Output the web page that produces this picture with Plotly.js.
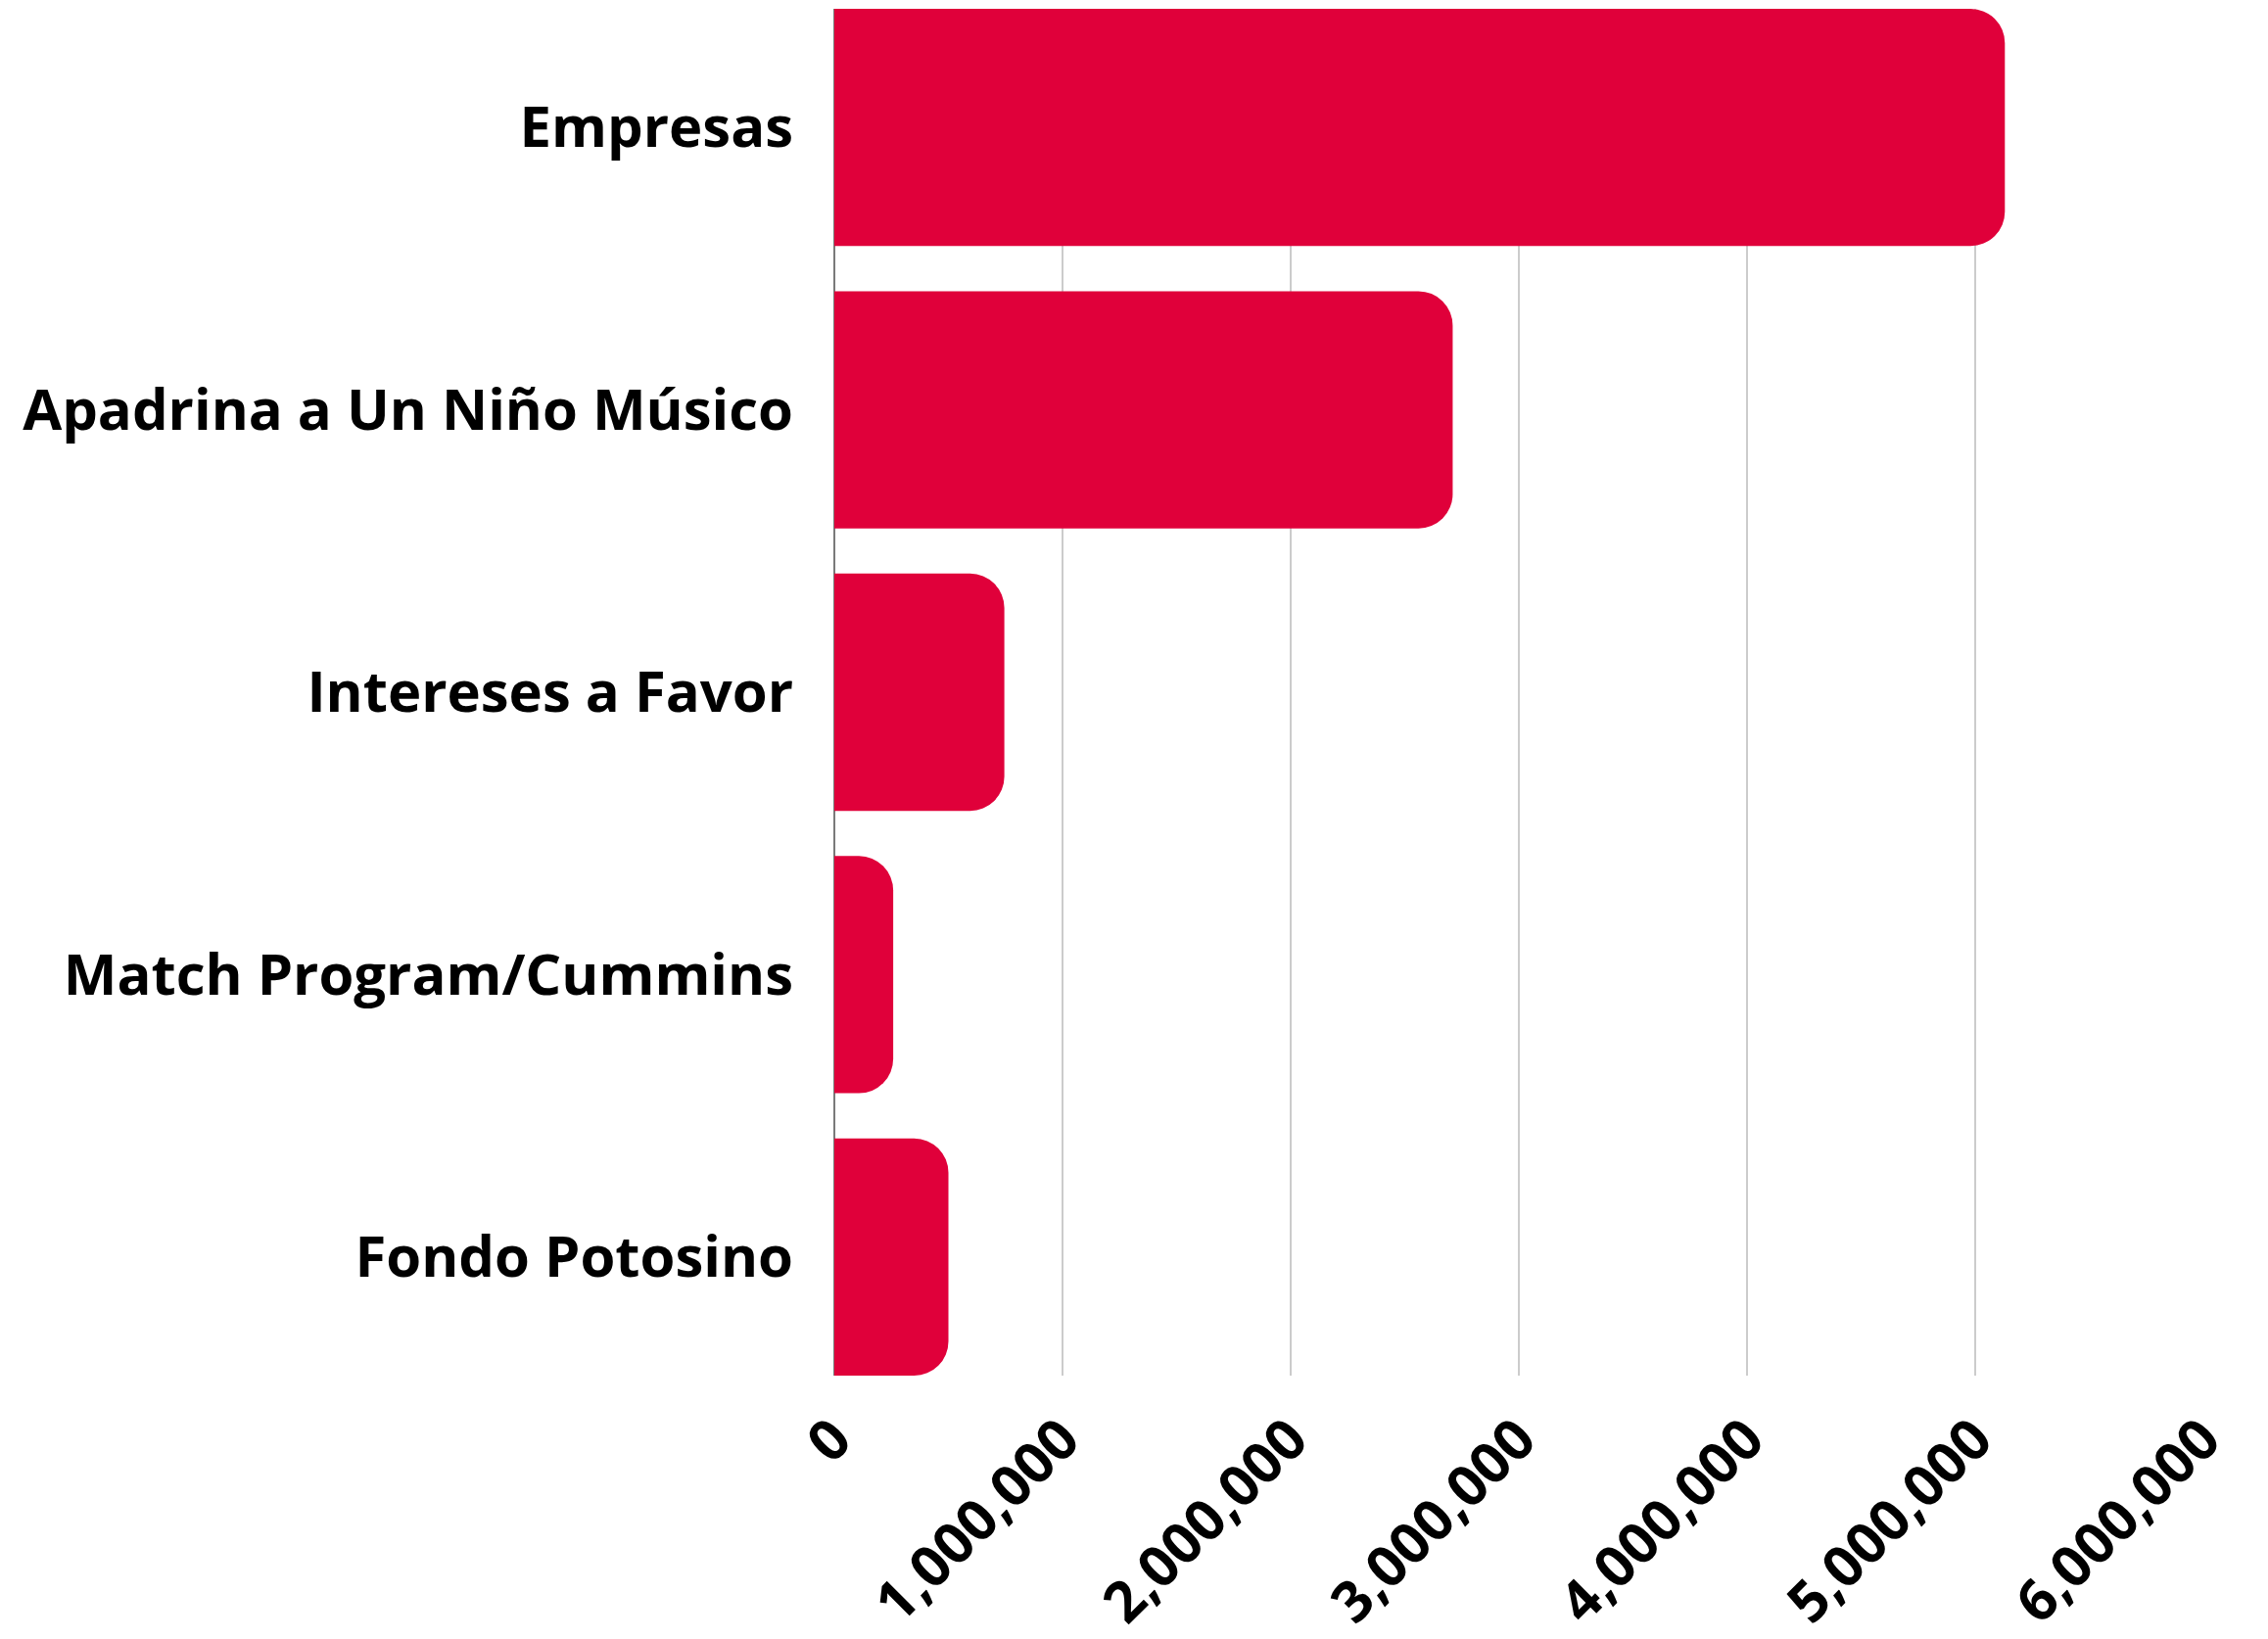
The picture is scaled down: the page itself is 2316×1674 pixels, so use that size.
<!DOCTYPE html>
<html>
<head>
<meta charset="utf-8">
<script src="https://cdn.plot.ly/plotly-3.0.1.min.js"></script>
<style>html,body{margin:0;padding:0;background:#fff;}</style>
</head>
<body>
<div id="chart" style="width:2316px;height:1674px;"></div>
<script>
const categories = ["Empresas", "Apadrina a Un Niño Músico", "Intereses a Favor", "Match Program/Cummins", "Fondo Potosino"];
const values = [5130000, 2710000, 745000, 258000, 500000];
const tickValues = [0, 1000000, 2000000, 3000000, 4000000, 5000000, 6000000];

const font = {family: "Open Sans, sans-serif", size: 58, color: "#000000", weight: 700};

Plotly.newPlot("chart", [{
  type: "bar",
  orientation: "h",
  y: categories,
  x: values,
  marker: {color: "#e0003a", cornerradius: 35, line: {width: 0}},
  hoverinfo: "none"
}], {
  width: 2316,
  height: 1674,
  margin: {l: 852, r: 66, t: 9, b: 269, pad: 0},
  paper_bgcolor: "#ffffff",
  plot_bgcolor: "#ffffff",
  bargap: 0.16,
  showlegend: false,
  xaxis: {
    range: [0, 6000000],
    tickvals: tickValues,
    tickformat: ",",
    tickangle: -45,
    tickfont: font,
    showgrid: true,
    gridcolor: "#cccccc",
    gridwidth: 1.5,
    zeroline: true,
    zerolinecolor: "#7a7a7a",
    zerolinewidth: 1.5,
    showline: false,
    ticks: "",
    ticklabelstandoff: 18,
    fixedrange: true
  },
  yaxis: {
    type: "category",
    range: [4.42, -0.42],
    tickfont: font,
    showgrid: false,
    zeroline: false,
    showline: false,
    ticks: "",
    ticklabelstandoff: 41,
    fixedrange: true
  }
}, {staticPlot: true, displayModeBar: false});
</script>
</body>
</html>
